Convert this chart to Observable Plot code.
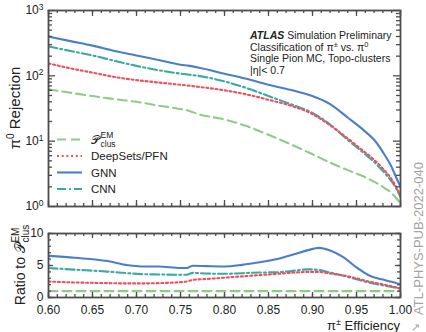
<!DOCTYPE html>
<html><head><meta charset="utf-8">
<script src="https://cdn.jsdelivr.net/npm/d3@7"></script>
<script src="https://cdn.jsdelivr.net/npm/@observablehq/plot@0.6"></script>
<style>
body{margin:0;background:#fff;}
#c{position:relative;width:426px;height:332px;overflow:hidden;background:#fff;}
#c svg{position:absolute;left:0;}
</style></head><body><div id="c"></div>
<script>
// ---------- data ----------
const efficiency = [0.60,0.625,0.65,0.675,0.70,0.725,0.75,0.76,0.77,0.80,0.825,0.85,0.875,0.90,0.92,0.94,0.96,0.97,0.98,0.99,0.995,1.00];
const rejPclus    = [62,55,49,44,40,35,31,29,26,21.5,17,12.5,9,6.3,4.7,3.6,2.8,2.4,2.0,1.6,1.35,1.1];
const rejDeepSets = [155,130,112,96,86,79,73,70.5,68,60,52,43,35,26,17.5,11,6.7,5.2,3.8,2.6,2.0,1.45];
const rejGNN      = [400,340,290,240,205,175,148,142,134,108,90,73,61,49,37,23,14,10.5,6.8,4.0,2.8,2.0];
const rejCNN      = [282,240,205,170,142,122,108,104,100,82,65,49,37,27,18,10.5,6.3,4.8,3.5,2.4,1.9,1.4];

const ratioEff      = [0.60,0.63,0.667,0.69,0.705,0.725,0.75,0.757,0.764,0.78,0.80,0.82,0.84,0.86,0.88,0.895,0.907,0.92,0.935,0.95,0.965,0.98,0.99,1.00];
const ratioGNN      = [6.5,6.2,5.7,5.05,4.85,4.85,4.6,4.6,4.95,4.9,4.85,5.1,5.5,6.0,6.8,7.4,7.75,7.35,6.3,4.7,3.4,2.8,2.45,2.05];
const ratioCNN      = [4.6,4.35,4.05,3.8,3.65,3.6,3.55,3.55,3.85,3.75,3.7,3.8,3.9,3.95,4.2,4.4,4.3,3.9,3.4,2.85,2.3,1.9,1.65,1.4];
const ratioDeepSets = [2.5,2.35,2.25,2.2,2.2,2.25,2.4,2.5,2.75,2.9,3.1,3.3,3.5,3.7,3.9,4.0,4.0,3.75,3.45,3.0,2.45,2.05,1.75,1.4];
const ratioPclusEff = [0.60,1.00];
const ratioPclus    = [1,1];

const xTicks = [0.60,0.65,0.70,0.75,0.80,0.85,0.90,0.95,1.00];
const xTickLabels = ["0.60","0.65","0.70","0.75","0.80","0.85","0.90","0.95","1.00"];
const yTopTicks = [1,10,100,1000];
const yTopExponents = ["0","1","2","3"];
const yBotTicks = [0,5,10];
const yBotTickLabels = ["0","5","10"];

const seriesNames = ["Pclus","DeepSets/PFN","GNN","CNN"];
const colors = {"Pclus":"#8fcb88","DeepSets/PFN":"#ef4f5c","GNN":"#4a7fc8","CNN":"#3aa9a4"};
const dashes = {"Pclus":"9,5","DeepSets/PFN":"2,2.7","GNN":null,"CNN":"9,3,2,3"};

// ---------- layout ----------
const FONT = '"Liberation Sans", Arial, Helvetica, sans-serif';
const W = 426, ML = 48, MR = 26, FW = W - ML - MR;
const TOP_H = 215, TOP_MT = 10, TOP_MB = 9, TH = TOP_H - TOP_MT - TOP_MB;
const BOT_TOP = 215, BOT_H = 117, BOT_MT = 18, BOT_MB = 35, BH = BOT_H - BOT_MT - BOT_MB;
const axisColor = "#4d4d4d";

const mainRows = n => {
  const v = {"Pclus":rejPclus,"DeepSets/PFN":rejDeepSets,"GNN":rejGNN,"CNN":rejCNN}[n];
  return efficiency.map((x,i)=>({x, y:v[i]}));
};
const ratioRows = n => {
  if (n === "Pclus") return ratioPclusEff.map((x,i)=>({x, y:ratioPclus[i]}));
  const v = {"DeepSets/PFN":ratioDeepSets,"GNN":ratioGNN,"CNN":ratioCNN}[n];
  return ratioEff.map((x,i)=>({x, y:v[i]}));
};

const xMinor = d3.range(60, 101).map(d => d/100);
const logMinor = [1,10,100].flatMap(k => d3.range(2,10).map(m => m*k));
const linMinor = d3.range(0, 11);

function frameTicks(H, yMajor, yMinor, yMajLen, yMinLen, xMajLen, xMinLen) {
  const s = {stroke: axisColor, strokeWidth: 1.3};
  return [
    Plot.tickX(xMinor, {x: d=>d, insetBottom: H - xMinLen, ...s}),
    Plot.tickX(xMinor, {x: d=>d, insetTop: H - xMinLen, ...s}),
    Plot.tickX(xTicks, {x: d=>d, insetBottom: H - xMajLen, ...s}),
    Plot.tickX(xTicks, {x: d=>d, insetTop: H - xMajLen, ...s}),
    Plot.tickY(yMinor, {y: d=>d, insetRight: FW - yMinLen, ...s}),
    Plot.tickY(yMinor, {y: d=>d, insetLeft: FW - yMinLen, ...s}),
    Plot.tickY(yMajor, {y: d=>d, insetRight: FW - yMajLen, ...s}),
    Plot.tickY(yMajor, {y: d=>d, insetLeft: FW - yMajLen, ...s}),
    Plot.frame({stroke: axisColor, strokeWidth: 1.8})
  ];
}

const lineMarks = rowsFn => seriesNames.slice().reverse().map(n => Plot.line(rowsFn(n), {
  x: "x", y: "y", stroke: colors[n], strokeWidth: 2.1, strokeDasharray: dashes[n] || undefined,
  curve: "monotone-x", clip: true
}));

const topPlot = Plot.plot({
  width: W, height: TOP_H, marginLeft: ML, marginRight: MR, marginTop: TOP_MT, marginBottom: TOP_MB,
  style: {fontFamily: FONT, fontSize: "12px", color: "#222", background: "transparent", overflow: "visible"},
  x: {domain: [0.6, 1.0], axis: null},
  y: {type: "log", domain: [1, 1000], ticks: yTopTicks, tickSize: 0, tickPadding: 5,
      tickFormat: d => yTopExponents[yTopTicks.indexOf(d)], label: null},
  marks: [...lineMarks(mainRows), ...frameTicks(TH, yTopTicks, logMinor, 7, 4, 6, 3)]
});
topPlot.style.top = "0px";

const bottomPlot = Plot.plot({
  width: W, height: BOT_H, marginLeft: ML, marginRight: MR, marginTop: BOT_MT, marginBottom: BOT_MB,
  style: {fontFamily: FONT, fontSize: "12px", color: "#222", background: "transparent", overflow: "visible"},
  x: {domain: [0.6, 1.0], ticks: xTicks, tickSize: 0, tickPadding: 8,
      tickFormat: d => xTickLabels[xTicks.indexOf(d)], label: null},
  y: {domain: [0, 10], ticks: yBotTicks, tickSize: 0, tickPadding: 5,
      tickFormat: d => yBotTickLabels[yBotTicks.indexOf(d)], label: null},
  marks: [...lineMarks(ratioRows), ...frameTicks(BH, yBotTicks, linMinor, 5, 3, 5, 3)]
});
bottomPlot.style.top = BOT_TOP + "px";

const c = document.getElementById("c");
c.appendChild(topPlot);
c.appendChild(bottomPlot);

// superscript exponents on log tick labels
topPlot.querySelectorAll('[aria-label="y-axis tick label"] text').forEach(t => {
  const e = t.textContent;
  t.textContent = "";
  const ns = "http://www.w3.org/2000/svg";
  const a = document.createElementNS(ns, "tspan"); a.textContent = "10"; t.appendChild(a);
  const b = document.createElementNS(ns, "tspan"); b.textContent = e;
  b.setAttribute("dy", "-0.5em"); b.setAttribute("font-size", "8.5px"); t.appendChild(b);
});
// nudge the lowest ratio label up so it clears the x tick labels
bottomPlot.querySelectorAll('[aria-label="y-axis tick label"] text').forEach(t => {
  if (t.textContent === "0") t.setAttribute("dy", "0em");
});

// ---------- overlay texts ----------
const ov = d3.select(c).append("svg").attr("width", W).attr("height", 332)
  .style("top", "0px").attr("font-family", FONT).attr("fill", "#222");

function scriptLabel(g, base, sup, sub, size, small) {
  const t = g.append("text").attr("font-size", size).text(base);
  const w = t.node().getComputedTextLength() + 0.5;
  const s1 = g.append("text").attr("x", w).attr("y", -size*0.45).attr("font-size", small).text(sup);
  const s2 = g.append("text").attr("x", w).attr("y", size*0.3).attr("font-size", small).text(sub);
  return w + Math.max(s1.node().getComputedTextLength(), s2.node().getComputedTextLength());
}

// y title top
{
  const t = ov.append("text").attr("transform", "translate(20,108) rotate(-90)")
    .attr("text-anchor", "middle").attr("font-size", 15);
  t.append("tspan").text("π");
  t.append("tspan").attr("dy", -6).attr("font-size", 10).text("0");
  t.append("tspan").attr("dy", 6).text(" Rejection");
}
// y title bottom
{
  const g = ov.append("g").attr("transform", "translate(25,265) rotate(-90)");
  const inner = g.append("g");
  const w = scriptLabel(inner, "Ratio to 𝒫", "EM", "clus", 14, 10);
  inner.attr("transform", `translate(${-w/2},0)`);
}
// x title
{
  const t = ov.append("text").attr("x", 400).attr("y", 329.5).attr("text-anchor", "end").attr("font-size", 13);
  t.append("tspan").text("π");
  t.append("tspan").attr("dy", -5).attr("font-size", 9).text("±");
  t.append("tspan").attr("dy", 5).text(" Efficiency");
}
// ATLAS annotation
{
  const fs = 10.5, x0 = 250;
  const l1 = ov.append("text").attr("x", x0).attr("y", 38.5).attr("font-size", fs);
  l1.append("tspan").attr("font-weight", "bold").attr("font-style", "italic").text("ATLAS");
  l1.append("tspan").text(" Simulation Preliminary");
  const l2 = ov.append("text").attr("x", x0).attr("y", 50.5).attr("font-size", fs);
  l2.append("tspan").text("Classification of π");
  l2.append("tspan").attr("dy", -4).attr("font-size", 7.5).text("±");
  l2.append("tspan").attr("dy", 4).text(" vs. π");
  l2.append("tspan").attr("dy", -4).attr("font-size", 7.5).text("0");
  ov.append("text").attr("x", x0).attr("y", 62).attr("font-size", fs).text("Single Pion MC, Topo-clusters");
  ov.append("text").attr("x", x0).attr("y", 74).attr("font-size", fs).text("|η|< 0.7");
}
// legend
{
  const rows = [139.5, 156, 172.5, 189];
  const labels = {"DeepSets/PFN":"DeepSets/PFN","GNN":"GNN","CNN":"CNN"};
  seriesNames.forEach((n, i) => {
    const y = rows[i];
    ov.append("line").attr("x1", 57).attr("x2", 82).attr("y1", y).attr("y2", y)
      .attr("stroke", colors[n]).attr("stroke-width", 2.1)
      .attr("stroke-dasharray", dashes[n] || null);
    if (n === "Pclus") {
      const g = ov.append("g").attr("transform", `translate(91,${y + 4})`);
      scriptLabel(g, "𝒫", "EM", "clus", 12, 8.5);
    } else {
      ov.append("text").attr("x", 91).attr("y", y + 4).attr("font-size", 11.5).text(labels[n]);
    }
  });
}
// reference tag
ov.append("text").attr("transform", "translate(423,315) rotate(-90)").attr("font-size", 13)
  .attr("fill", "#a3a3a3").text("ATL-PHYS-PUB-2022-040");
ov.append("text").attr("x", 411).attr("y", 331).attr("font-size", 11).attr("fill", "#a3a3a3").text("↗");
</script>
</body></html>
